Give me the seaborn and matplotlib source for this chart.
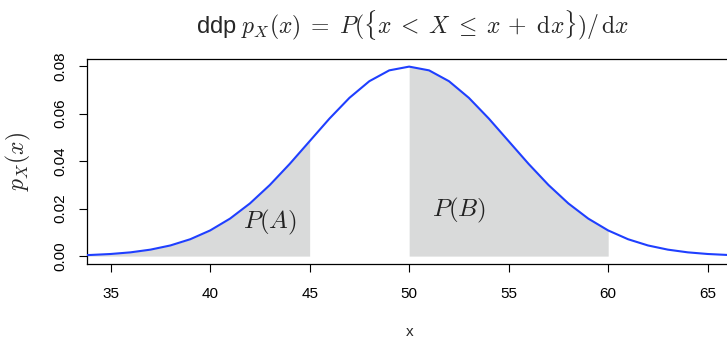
import matplotlib
matplotlib.use("Agg")
import matplotlib.pyplot as plt
import seaborn as sns
import pandas as pd

# Density of X ~ N(50, 5^2) tabulated at integer x
x_vals = [32, 33, 34, 35, 36, 37, 38, 39, 40, 41, 42, 43, 44, 45, 46, 47, 48, 49,
          50, 51, 52, 53, 54, 55, 56, 57, 58, 59, 60, 61, 62, 63, 64, 65, 66, 67, 68]
density = [0.00012, 0.00025, 0.00048, 0.00089, 0.00158, 0.00272, 0.00448, 0.00710,
           0.01080, 0.01579, 0.02218, 0.02995, 0.03884, 0.04839, 0.05794, 0.06664,
           0.07365, 0.07821, 0.07979, 0.07821, 0.07365, 0.06664, 0.05794, 0.04839,
           0.03884, 0.02995, 0.02218, 0.01579, 0.01080, 0.00710, 0.00448, 0.00272,
           0.00158, 0.00089, 0.00048, 0.00025, 0.00012]

# Event intervals A = (-inf, 45], B = [50, 60]
region_a = (32, 45)
region_b = (50, 60)
x_ticks = [35, 40, 45, 50, 55, 60, 65]
y_ticks = [0.00, 0.02, 0.04, 0.06, 0.08]
y_ticklabels = ["0.00", "0.02", "0.04", "0.06", "0.08"]

sns.set_style("ticks")
plt.rcParams["font.family"] = ["Liberation Sans", "DejaVu Sans"]
plt.rcParams["mathtext.fontset"] = "cm"

df = pd.DataFrame({"x": x_vals, "density": density})

fig = plt.figure(figsize=(7.27, 3.40), dpi=100)
ax = fig.add_axes([0.1193, 0.2244, 0.8870, 0.6021])

shade = "#d9dada"
for lo, hi in (region_a, region_b):
    sub = df[(df["x"] >= lo) & (df["x"] <= hi)]
    ax.fill_between(sub["x"], 0, sub["density"], color=shade, linewidth=0, zorder=1)

sns.lineplot(data=df, x="x", y="density", ax=ax, color="#1f3fff", linewidth=1.5,
             zorder=3, legend=False)

ax.text(43.0, 0.0140, r"$P(A)$", fontsize=18, ha="center", va="center", color="#222222")
ax.text(52.5, 0.0191, r"$P(B)$", fontsize=18, ha="center", va="center", color="#222222")

ax.set_xlim(33.8, 66.2)
ax.set_ylim(-0.0032, 0.0830)
ax.set_xticks(x_ticks)
ax.set_xticklabels([str(t) for t in x_ticks])
ax.set_yticks(y_ticks)
ax.set_yticklabels(y_ticklabels)

for sp in ax.spines.values():
    sp.set_visible(True)
    sp.set_linewidth(0.9)
    sp.set_color("black")

ax.tick_params(axis="both", direction="out", length=6, width=0.8, colors="black",
               labelsize=11)
ax.tick_params(axis="x", pad=11)
ax.tick_params(axis="y", pad=8)
plt.setp(ax.get_yticklabels(), rotation=90, va="center")

ax.set_xlabel("x", fontsize=11)
ax.xaxis.set_label_coords(0.5, -0.30)
ax.set_ylabel(r"$p_X(x)$", fontsize=17)
ax.yaxis.set_label_coords(-0.083, 0.5)

fig.text(0.567, 1 - 25 / 340,
         r"ddp $p_X(x) \;=\; P(\{x \;<\; X \;\leq\; x \,+\, \,\mathrm{d}x\})/\,\mathrm{d}x$",
         ha="center", va="center", fontsize=17)

fig.savefig("out.png", dpi=100)
